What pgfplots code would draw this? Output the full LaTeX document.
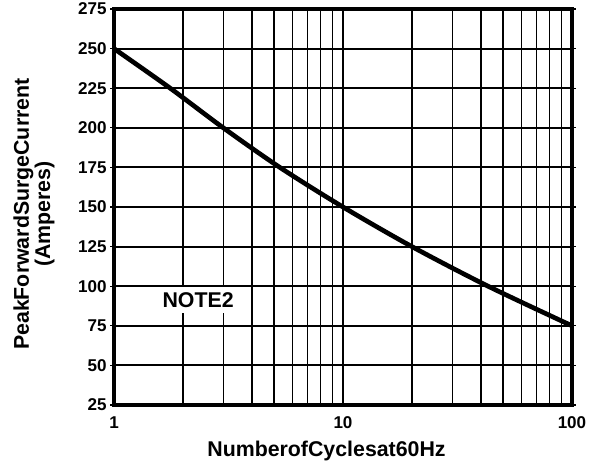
\documentclass[border=0pt]{standalone}
\usepackage{pgfplots}
\pgfplotsset{compat=1.18}
\usepackage{fontspec}
\setmainfont{Liberation Sans}
\begin{document}
\begin{tikzpicture}
\path[use as bounding box] (-85.5pt,-43.5pt) rectangle (360pt,303.75pt);
\begin{axis}[
  at={(0,0)}, anchor=south west,
  scale only axis,
  width=343.5pt, height=297pt,
  xmode=log, log basis x=10,
  xmin=1, xmax=100, ymin=25, ymax=275,
  ytick={25,50,...,275},
  xtick={1,10,100},
  xticklabels={\textbf{1},\textbf{10},\textbf{100}},
  /pgf/number format/assume math mode=true,
  yticklabel={\textbf{\pgfmathprintnumber[assume math mode=true]{\tick}}},
  minor xtick={2,3,4,5,6,7,8,9,20,30,40,50,60,70,80,90},
  grid=both,
  major grid style={black, line width=1.5pt},
  minor grid style={black, line width=1pt},
  xmajorgrids=true, xminorgrids=true,
  axis line style={black, line width=3pt},
  tick align=outside,
  x tick style={draw=none},
  y tick style={black, line width=1pt},
  major tick length=3pt, minor tick length=0pt,
  tick label style={font=\fontsize{12.8}{14}\selectfont},
  xticklabel style={anchor=base, yshift=-14.8pt},
  yticklabel style={anchor=east, xshift=1pt},
  log ticks with fixed point,
  xlabel={\textbf{NumberofCyclesat60Hz}},
  ylabel={\textbf{PeakForwardSurgeCurrent}\\\textbf{(Amperes)}},
  xlabel style={font=\fontsize{16}{18}\selectfont, at={(axis description cs:0.464,-0.1313)}, anchor=base},
  ylabel style={font=\fontsize{16}{14}\selectfont, align=center, at={(axis description cs:-0.1747,0.482)}, anchor=center},
  clip=true,
]
\addplot[black, line width=3.5pt, smooth, tension=0.5] coordinates {
 (1,250) (1.76,225) (3,200) (5.3,175) (10,150) (20,125) (43,100) (100,75)
};
\node[font=\fontsize{16}{18}\selectfont\bfseries, fill=white, inner xsep=1pt, inner ysep=4pt] at (axis cs:2.33,91.3) {NOTE2};
\end{axis}
\end{tikzpicture}
\end{document}
